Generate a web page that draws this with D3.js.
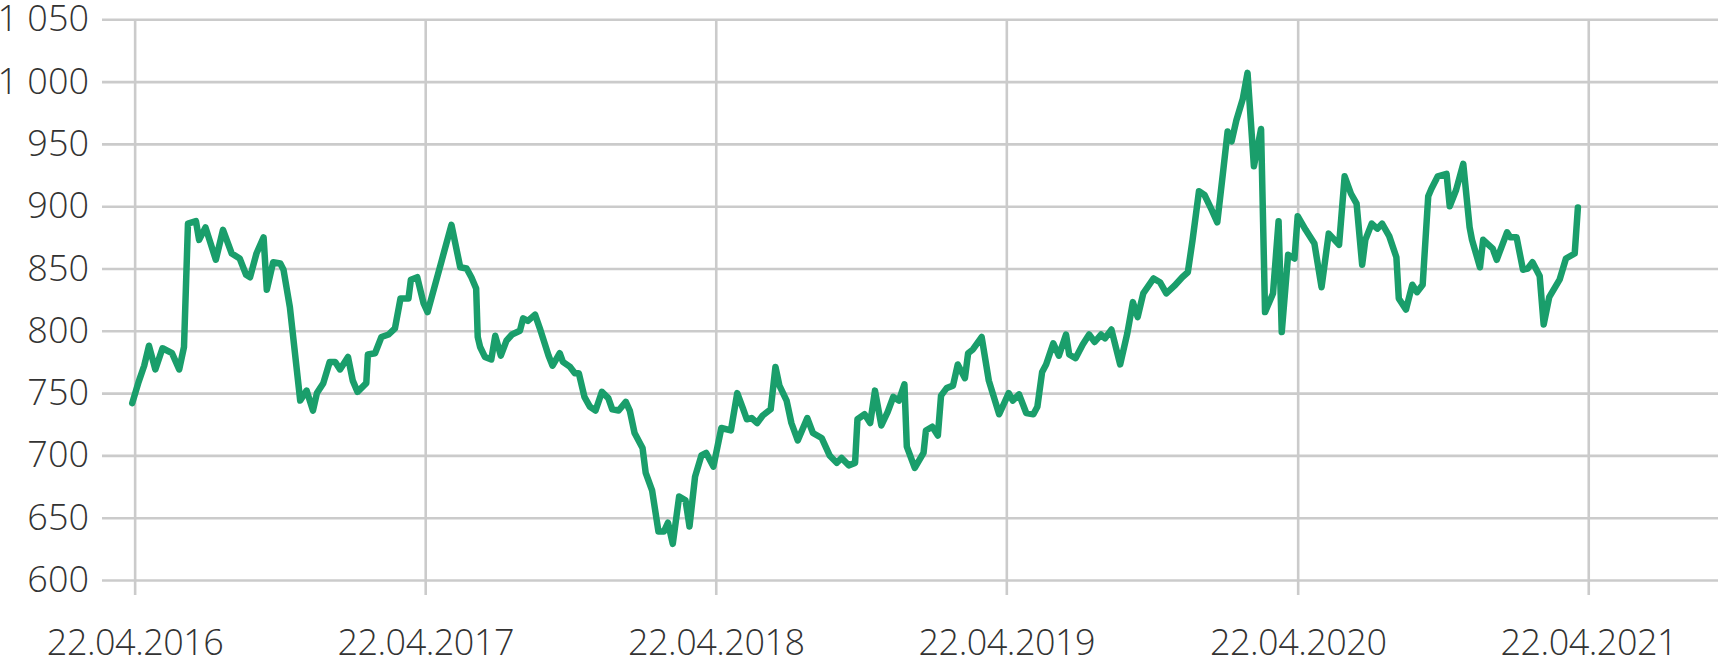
<!DOCTYPE html>
<html>
<head>
<meta charset="utf-8">
<script src="https://cdn.jsdelivr.net/npm/d3@7"></script>
<style>
  html, body { margin: 0; padding: 0; background: #ffffff; }
  svg { display: block; }
</style>
</head>
<body>
<svg id="chart" width="1718" height="658"></svg>
<script>
// ---- Data ----
const dates = [
  "2016-04-19","2016-04-27","2016-05-04","2016-05-10","2016-05-18","2016-05-27","2016-06-08","2016-06-17","2016-06-23","2016-06-28",
  "2016-07-08","2016-07-12","2016-07-20","2016-08-02","2016-08-11","2016-08-22","2016-09-01","2016-09-09","2016-09-14","2016-09-22",
  "2016-10-01","2016-10-05","2016-10-13","2016-10-22","2016-10-26","2016-11-03","2016-11-16","2016-11-24","2016-12-02","2016-12-07",
  "2016-12-15","2016-12-23","2016-12-30","2017-01-05","2017-01-15","2017-01-21","2017-01-27","2017-02-07","2017-02-09","2017-02-18",
  "2017-02-26","2017-03-07","2017-03-15","2017-03-22","2017-04-01","2017-04-04","2017-04-12","2017-04-20","2017-04-25","2017-05-13",
  "2017-05-25","2017-06-05","2017-06-13","2017-06-19","2017-06-25","2017-06-27","2017-06-30","2017-07-06","2017-07-14","2017-07-19",
  "2017-07-26","2017-08-02","2017-08-09","2017-08-19","2017-08-23","2017-08-29","2017-09-07","2017-09-13","2017-09-17","2017-09-24",
  "2017-09-29","2017-10-08","2017-10-12","2017-10-21","2017-10-27","2017-11-01","2017-11-08","2017-11-15","2017-11-22","2017-11-30",
  "2017-12-08","2017-12-13","2017-12-21","2017-12-30","2018-01-04","2018-01-10","2018-01-20","2018-01-24","2018-02-01","2018-02-09",
  "2018-02-16","2018-02-21","2018-02-27","2018-03-07","2018-03-15","2018-03-20","2018-03-27","2018-04-04","2018-04-10","2018-04-19",
  "2018-04-29","2018-05-11","2018-05-19","2018-05-26","2018-05-31","2018-06-06","2018-06-13","2018-06-20","2018-06-30","2018-07-06",
  "2018-07-11","2018-07-20","2018-07-26","2018-08-03","2018-08-15","2018-08-22","2018-09-02","2018-09-12","2018-09-21","2018-09-27",
  "2018-10-06","2018-10-14","2018-10-17","2018-10-26","2018-11-02","2018-11-08","2018-11-16","2018-11-24","2018-12-01","2018-12-08",
  "2018-12-15","2018-12-18","2018-12-28","2019-01-08","2019-01-11","2019-01-19","2019-01-26","2019-01-30","2019-02-06","2019-02-14",
  "2019-02-20","2019-03-01","2019-03-05","2019-03-11","2019-03-22","2019-03-31","2019-04-13","2019-04-25","2019-04-30","2019-05-08",
  "2019-05-17","2019-05-26","2019-05-31","2019-06-06","2019-06-11","2019-06-20","2019-06-27","2019-07-06","2019-07-10","2019-07-18",
  "2019-07-27","2019-08-04","2019-08-11","2019-08-19","2019-08-24","2019-09-01","2019-09-12","2019-09-21","2019-09-28","2019-10-04",
  "2019-10-11","2019-10-24","2019-11-01","2019-11-09","2019-11-19","2019-11-29","2019-12-06","2019-12-12","2019-12-20","2019-12-27",
  "2020-01-05","2020-01-12","2020-01-19","2020-01-25","2020-01-30","2020-02-05","2020-02-13","2020-02-19","2020-02-27","2020-03-07",
  "2020-03-12","2020-03-22","2020-03-29","2020-04-02","2020-04-10","2020-04-18","2020-04-22","2020-05-02","2020-05-13","2020-05-22",
  "2020-05-31","2020-06-13","2020-06-20","2020-06-28","2020-07-05","2020-07-12","2020-07-16","2020-07-24","2020-07-31","2020-08-06",
  "2020-08-15","2020-08-24","2020-08-27","2020-09-05","2020-09-13","2020-09-19","2020-09-26","2020-10-03","2020-10-07","2020-10-15",
  "2020-10-26","2020-10-30","2020-11-07","2020-11-16","2020-11-24","2020-11-27","2020-12-07","2020-12-11","2020-12-23","2020-12-28",
  "2021-01-10","2021-01-14","2021-01-22","2021-01-30","2021-02-05","2021-02-11","2021-02-20","2021-02-25","2021-03-04","2021-03-17",
  "2021-03-25","2021-04-05","2021-04-09"
];
const values = [
  742,759,772,788,769,786,782,769,787,886,
  888,873,883,857,881,862,858,845,843,862,
  875,833,855,854,849,819,744,752,736,750,
  758,775,775,769,779,760,751,758,781,782,
  795,797,802,826,826,841,843,822,815,857,
  885,851,850,843,834,795,787,779,777,796,
  780,792,797,800,810,808,813,802,794,780,
  772,782,775,771,766,766,747,739,736,751,
  746,737,736,743,736,718,706,686,672,639,
  639,646,629,667,664,643,683,700,702,691,
  722,720,750,738,729,730,726,732,737,771,
  756,744,726,712,730,718,714,700,694,698,
  692,694,729,733,726,752,724,735,747,744,
  757,707,690,702,720,723,716,748,754,756,
  773,762,782,785,795,760,733,750,744,749,
  734,733,739,767,773,790,780,797,781,778,
  789,797,791,797,794,801,773,798,823,811,
  830,842,839,830,836,843,847,873,912,909,
  897,887,926,960,952,969,986,1007,932,962,
  815,830,888,799,861,858,892,881,870,835,
  878,869,924,910,902,853,873,886,882,886,
  876,859,826,817,837,831,837,908,914,924,
  926,900,913,934,883,873,851,873,866,857,
  879,875,875,849,850,855,844,805,827,841,
  858,862,899
];
const yTicks = [600, 650, 700, 750, 800, 850, 900, 950, 1000, 1050];
const xTicks = ["2016-04-22","2017-04-22","2018-04-22","2019-04-22","2020-04-22","2021-04-22"];
const xDomain = ["2016-03-12", "2021-10-02"];

// ---- Layout ----
const W = 1718, H = 658;
const plot = { left: 102, right: 1718, top: 19.3, bottom: 580 };
const parse = d3.timeParse("%Y-%m-%d");

const x = d3.scaleTime()
  .domain(xDomain.map(parse))
  .range([plot.left, plot.right]);
const y = d3.scaleLinear()
  .domain([600, 1050])
  .range([plot.bottom, plot.top]);

const svg = d3.select("#chart");
const FONT = "'Open Sans', 'Lato', sans-serif";
const gridColor = "#cbcbcb";
const textColor = "#333333";

const locale = d3.formatLocale({ decimal: ",", thousands: " ", grouping: [3], currency: ["", ""] });
const yFmt = locale.format(",d");
const xFmt = d3.timeFormat("%d.%m.%Y");

// Y axis with horizontal gridlines
const gy = svg.append("g")
  .attr("transform", `translate(${plot.left},0)`)
  .call(d3.axisLeft(y).tickValues(yTicks).tickFormat(yFmt)
    .tickSize(-(plot.right - plot.left)).tickPadding(13));
gy.select(".domain").remove();
gy.selectAll(".tick line").attr("stroke", gridColor).attr("stroke-width", 2.6);
gy.selectAll(".tick text")
  .attr("fill", textColor)
  .style("font-family", FONT).style("font-weight", 300).style("font-size", "36px");

// X axis with vertical gridlines
const axisY = 595;
const gx = svg.append("g")
  .attr("transform", `translate(0,${axisY})`)
  .call(d3.axisBottom(x).tickValues(xTicks.map(parse)).tickFormat(xFmt)
    .tickSize(-(axisY - plot.top)).tickPadding(34));
gx.select(".domain").remove();
gx.selectAll(".tick line").attr("stroke", gridColor).attr("stroke-width", 2.6);
gx.selectAll(".tick text")
  .attr("fill", textColor)
  .style("font-family", FONT).style("font-weight", 300).style("font-size", "36px")
  .style("letter-spacing", "-0.5px");

// Line
const data = dates.map((d, i) => ({ date: parse(d), value: values[i] }));
const line = d3.line().x(d => x(d.date)).y(d => y(d.value));
svg.append("path")
  .datum(data)
  .attr("d", line)
  .attr("fill", "none")
  .attr("stroke", "#1a9e6b")
  .attr("stroke-width", 6.5)
  .attr("stroke-linejoin", "round")
  .attr("stroke-linecap", "round");
</script>
</body>
</html>
